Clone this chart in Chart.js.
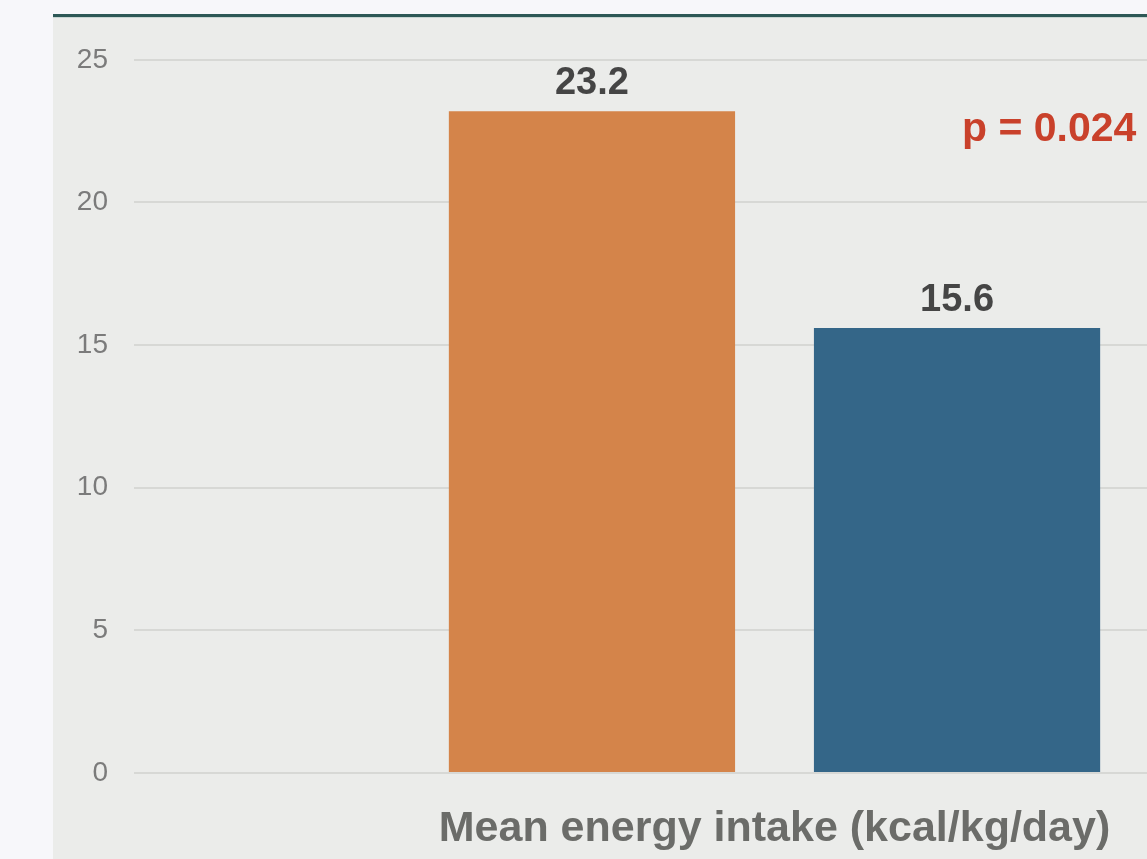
<!DOCTYPE html>
<html>
<head>
<meta charset="utf-8">
<script src="https://cdn.jsdelivr.net/npm/chart.js@4.4.1/dist/chart.umd.min.js"></script>
<style>
  html, body { margin: 0; padding: 0; width: 1147px; height: 859px; overflow: hidden; background: #f7f7fa; }
  #panel {
    position: absolute; left: 53px; top: 14px; right: 0; bottom: 0;
    background: #ebecea; border-top: 3px solid #2d5856; overflow: hidden;
    box-shadow: inset 0 1px 0 #c9d6d3;
  }
  #chart { position: absolute; left: 0; top: 0; }
</style>
</head>
<body>
<div id="panel"><canvas id="chart" width="1362" height="842"></canvas></div>
<script>
// Mean energy intake per group
const categories = ['Mean energy intake (kcal/kg/day)'];
const groupA = [23.2];
const groupB = [15.6];
const yTicks = [0, 5, 10, 15, 20, 25];
const pValueText = 'p = 0.024';

// Value labels above each bar and the significance note
const valueLabels = {
  id: 'valueLabels',
  afterDatasetsDraw(chart) {
    const ctx = chart.ctx;
    ctx.save();
    ctx.font = 'bold 38px "Liberation Sans", Arial, sans-serif';
    ctx.fillStyle = '#454545';
    ctx.textAlign = 'center';
    ctx.textBaseline = 'alphabetic';
    chart.data.datasets.forEach((ds, i) => {
      chart.getDatasetMeta(i).data.forEach((bar, j) => {
        ctx.fillText(ds.data[j].toFixed(1), bar.x, bar.y - 17);
      });
    });
    const area = chart.chartArea;
    ctx.font = 'bold 41px "Liberation Sans", Arial, sans-serif';
    ctx.fillStyle = '#c9412b';
    ctx.textAlign = 'left';
    ctx.fillText(pValueText, area.left + 828, chart.scales.y.getPixelForValue(22.5) + 10);
    ctx.restore();
  }
};

new Chart(document.getElementById('chart'), {
  type: 'bar',
  data: {
    labels: categories,
    datasets: [
      { label: 'Group A', data: groupA, backgroundColor: '#d4844a',
        categoryPercentage: 0.57, barPercentage: 0.784 },
      { label: 'Group B', data: groupB, backgroundColor: '#346688',
        categoryPercentage: 0.57, barPercentage: 0.784 }
    ]
  },
  options: {
    responsive: false,
    animation: false,
    layout: { padding: { top: 41, right: 0, bottom: 0, left: 0 } },
    plugins: { legend: { display: false }, tooltip: { enabled: false } },
    scales: {
      x: {
        grid: { display: false, drawTicks: false },
        border: { display: false },
        ticks: {
          padding: 30,
          color: '#6b6c69',
          font: { family: '"Liberation Sans", Arial, sans-serif', size: 43, weight: 'bold' }
        },
        afterFit(scale) { scale.height = 86; }
      },
      y: {
        min: 0, max: 25,
        afterBuildTicks(scale) { scale.ticks = yTicks.map(v => ({ value: v })); },
        grid: { color: '#d7d8d5', lineWidth: 2, drawTicks: false },
        border: { display: false },
        ticks: {
          padding: 26,
          color: '#7b7b7b',
          font: { family: '"Liberation Sans", Arial, sans-serif', size: 28 }
        },
        afterFit(scale) { scale.width = 81; }
      }
    }
  },
  plugins: [valueLabels]
});
</script>
</body>
</html>
